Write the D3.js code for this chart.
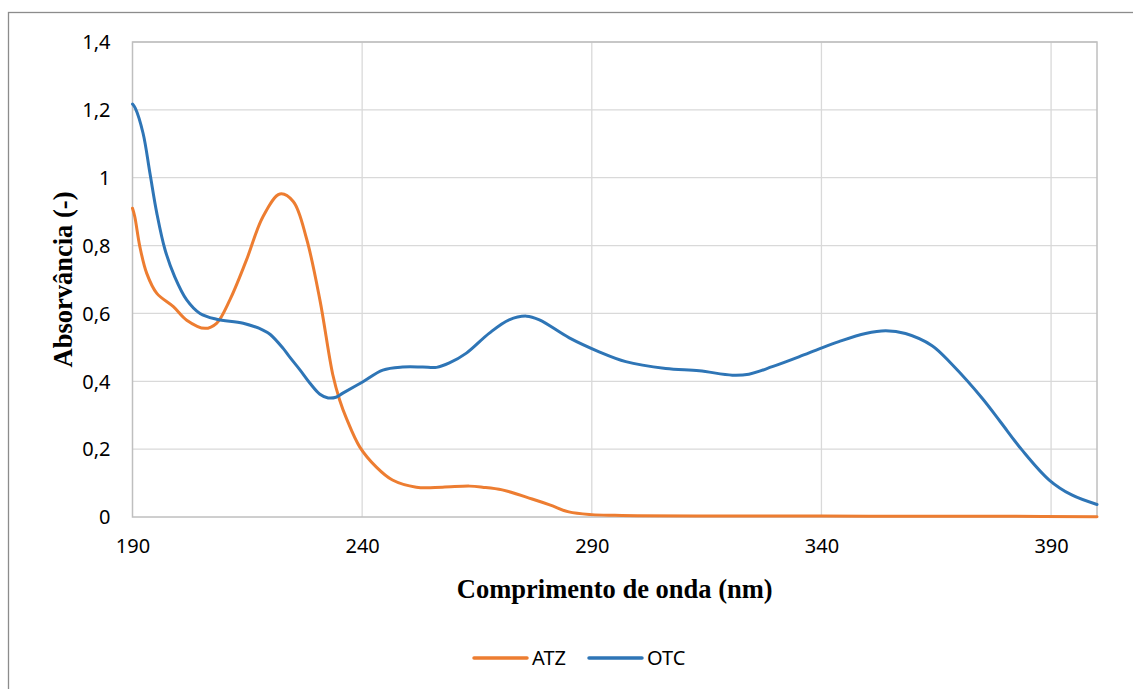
<!DOCTYPE html>
<html>
<head>
<meta charset="utf-8">
<script src="https://cdn.jsdelivr.net/npm/d3@7"></script>
<style>
  html, body { margin: 0; padding: 0; background: #fff; }
  svg { display: block; }
</style>
</head>
<body>
<svg id="chart" width="1133" height="689"></svg>
<script>
// ---- Data ----
const xTicks = [190, 240, 290, 340, 390];
const yTicks = [0, 0.2, 0.4, 0.6, 0.8, 1, 1.2, 1.4];
const yTickLabels = ["0", "0,2", "0,4", "0,6", "0,8", "1", "1,2", "1,4"];
const seriesNames = ["ATZ", "OTC"];

const atzX = [190, 190.5, 191.6, 193.1, 195.3, 198.9, 201.8, 205.8, 208.3, 211.2, 214.8, 218.4, 222.1, 225, 227.9, 230.8, 233.6, 235.1, 236.6, 239.5, 243.1, 246.6, 251.8, 257.5, 263.4, 266.2, 270.5, 277, 281, 285, 290, 295, 300, 320, 340, 360, 380, 400];
const atzY = [0.91, 0.885, 0.797, 0.718, 0.659, 0.62, 0.58, 0.556, 0.571, 0.64, 0.757, 0.885, 0.952, 0.93, 0.82, 0.64, 0.42, 0.345, 0.29, 0.206, 0.147, 0.109, 0.088, 0.088, 0.091, 0.088, 0.08, 0.053, 0.035, 0.015, 0.007, 0.005, 0.004, 0.003, 0.003, 0.002, 0.002, 0.001];

const otcX = [190, 190.6, 192.3, 193.8, 195.3, 197.1, 199.2, 201.8, 204.7, 208.3, 214.1, 218.4, 220, 222.8, 224.2, 226.5, 228.6, 230.8, 232.6, 234.3, 235.8, 240.1, 244.5, 248.8, 253.2, 256.2, 259, 262.7, 267.7, 272, 275.8, 278.6, 285.1, 291.6, 297.4, 306.1, 313.4, 320.6, 324.2, 329.3, 335.1, 339.8, 343.8, 349.6, 354, 358.3, 364.1, 368.4, 375, 379, 383.7, 389.6, 394.5, 400];
const otcY = [1.217, 1.205, 1.131, 1.013, 0.895, 0.787, 0.708, 0.64, 0.6, 0.583, 0.571, 0.551, 0.538, 0.497, 0.472, 0.433, 0.395, 0.362, 0.351, 0.353, 0.365, 0.398, 0.433, 0.442, 0.442, 0.441, 0.454, 0.483, 0.542, 0.581, 0.592, 0.581, 0.528, 0.487, 0.458, 0.438, 0.431, 0.418, 0.421, 0.443, 0.472, 0.497, 0.517, 0.541, 0.549, 0.541, 0.505, 0.45, 0.35, 0.28, 0.197, 0.109, 0.065, 0.037];

const colors = ["#ED7D31", "#2E75B6"];

// ---- Layout ----
const svg = d3.select("#chart");
const L = 132.5, R = 1097, T = 42, B = 517;

const x = d3.scaleLinear().domain([190, 400]).range([L, R]);
const y = d3.scaleLinear().domain([0, 1.4]).range([B, T]);

// outer chart border
svg.append("rect")
  .attr("x", 8.5).attr("y", 12.5)
  .attr("width", 1140).attr("height", 700)
  .attr("fill", "none").attr("stroke", "#8c8c8c").attr("stroke-width", 1.3);

// gridlines
const grid = svg.append("g");
grid.selectAll("line.h").data(yTicks.slice(1)).join("line")
  .attr("x1", L).attr("x2", R)
  .attr("y1", d => y(d)).attr("y2", d => y(d))
  .attr("stroke", "#d9d9d9").attr("stroke-width", 1.3);
grid.selectAll("line.v").data(xTicks.slice(1)).join("line")
  .attr("x1", d => x(d)).attr("x2", d => x(d))
  .attr("y1", T).attr("y2", B)
  .attr("stroke", "#d9d9d9").attr("stroke-width", 1.3);

// plot border
svg.append("rect")
  .attr("x", L).attr("y", T).attr("width", R - L).attr("height", B - T)
  .attr("fill", "none").attr("stroke", "#bfbfbf").attr("stroke-width", 1.5);

// axes (labels only)
const yAxis = d3.axisLeft(y).tickValues(yTicks)
  .tickFormat((d, i) => yTickLabels[i]).tickSize(0).tickPadding(22);
const gy = svg.append("g").attr("transform", `translate(${L},0)`).call(yAxis);
gy.select(".domain").remove();
gy.selectAll("text").attr("font-family", "'Noto Sans', 'Open Sans', sans-serif")
  .attr("font-size", 20).attr("fill", "#000").attr("dy", "0.34em");

const xAxis = d3.axisBottom(x).tickValues(xTicks).tickFormat(d3.format("d")).tickSize(0).tickPadding(22);
const gx = svg.append("g").attr("transform", `translate(0,${B})`).call(xAxis);
gx.select(".domain").remove();
gx.selectAll("text").attr("font-family", "'Noto Sans', 'Open Sans', sans-serif")
  .attr("font-size", 20).attr("fill", "#000");

// series
const line = d3.line().x(d => x(d[0])).y(d => y(d[1])).curve(d3.curveCatmullRom.alpha(0.5));
const atzData = atzX.map((v, i) => [v, atzY[i]]);
const otcData = otcX.map((v, i) => [v, otcY[i]]);
[atzData, otcData].forEach((dat, i) => {
  svg.append("path").datum(dat)
    .attr("d", line)
    .attr("fill", "none")
    .attr("stroke", colors[i])
    .attr("stroke-width", 3)
    .attr("stroke-linejoin", "round")
    .attr("stroke-linecap", "round");
});

// axis titles
svg.append("text")
  .attr("x", (L + R) / 2).attr("y", 598)
  .attr("text-anchor", "middle")
  .attr("font-family", "'Liberation Serif', 'Times New Roman', serif")
  .attr("font-weight", "bold").attr("font-size", 26.5)
  .text("Comprimento de onda (nm)");

svg.append("text")
  .attr("transform", `translate(72,${(T + B) / 2}) rotate(-90)`)
  .attr("text-anchor", "middle")
  .attr("font-family", "'Liberation Serif', 'Times New Roman', serif")
  .attr("font-weight", "bold").attr("font-size", 26.5)
  .text("Absorvância (-)");

// legend
const legendItems = [
  { name: seriesNames[0], color: colors[0], x1: 474, x2: 527, tx: 532 },
  { name: seriesNames[1], color: colors[1], x1: 589, x2: 642, tx: 647 }
];
const lg = svg.append("g");
legendItems.forEach(it => {
  lg.append("line").attr("x1", it.x1).attr("x2", it.x2).attr("y1", 658).attr("y2", 658)
    .attr("stroke", it.color).attr("stroke-width", 3.5).attr("stroke-linecap", "round");
  lg.append("text").attr("x", it.tx).attr("y", 665)
    .attr("font-family", "'Noto Sans', 'Open Sans', sans-serif")
    .attr("font-size", 20).attr("fill", "#000")
    .text(it.name);
});
</script>
</body>
</html>
